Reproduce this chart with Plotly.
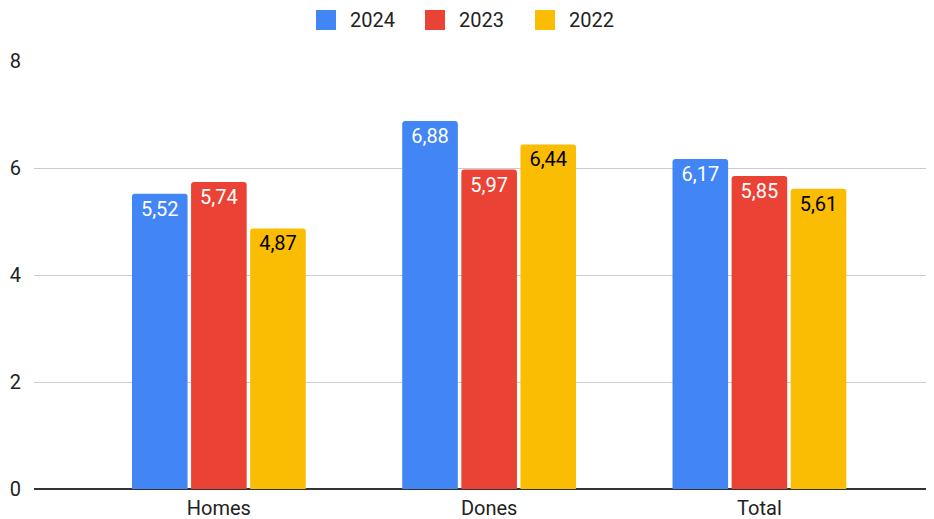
import plotly.graph_objects as go

categories = ["Homes", "Dones", "Total"]
series_names = ["2024", "2023", "2022"]
values_2024 = [5.52, 6.88, 6.17]
values_2023 = [5.74, 5.97, 5.85]
values_2022 = [4.87, 6.44, 5.61]
colors = ["#4285F4", "#EA4335", "#FBBC04"]
text_colors = ["white", "white", "black"]
y_ticks = [0, 2, 4, 6, 8]

# the page body has an 8px margin; size the figure so it ends at the window edge
OFF = 8
W, H = 934 - OFF, 519 - OFF
ML, MR, MT, MB = 34 - OFF, 0, 61 - OFF, 30
PW, PH = W - ML - MR, H - MT - MB


def px_x(px):
    return (px - OFF - ML) / PW


def px_y(py):
    return (H - MB - (py - OFF)) / PH


fig = go.Figure()
for name, vals, col, tc in zip(series_names, [values_2024, values_2023, values_2022], colors, text_colors):
    fig.add_trace(go.Bar(
        x=categories, y=vals, name=name,
        marker=dict(color=col, cornerradius=3, line=dict(width=0)),
        text=vals, texttemplate="%{y:.2f}", textposition="inside",
        insidetextanchor="end", textangle=0,
        textfont=dict(family="Roboto", size=20, color=tc),
        showlegend=False,
    ))

# custom legend (top centre), matching the reference's larger swatches
legend_sq_x = [316, 425, 535]
shapes = []
annotations = []
for name, col, sx in zip(series_names, colors, legend_sq_x):
    shapes.append(dict(type="rect", xref="paper", yref="paper",
                       x0=px_x(sx), x1=px_x(sx + 20), y0=px_y(30), y1=px_y(10),
                       fillcolor=col, line=dict(width=0), layer="above"))
    annotations.append(dict(xref="paper", yref="paper", x=px_x(sx + 32), y=px_y(20),
                            xanchor="left", yanchor="middle", showarrow=False,
                            text=name, font=dict(family="Roboto", size=20, color="#222222")))

fig.update_layout(
    width=W, height=H,
    margin=dict(l=ML, r=MR, t=MT, b=MB, autoexpand=False),
    paper_bgcolor="white", plot_bgcolor="white",
    barmode="group", bargap=0.344, bargroupgap=0.059,
    separators=",.",
    uniformtext=dict(minsize=20, mode="show"),
    font=dict(family="Roboto", size=20, color="#222222"),
    showlegend=False,
    shapes=shapes, annotations=annotations,
    xaxis=dict(range=[-0.684, 2.646], showgrid=False, showline=False, ticks="",
               tickfont=dict(size=20, color="#222222"), ticklabelstandoff=5),
    yaxis=dict(range=[0, 8], tickvals=y_ticks, showgrid=True, gridcolor="#CCCCCC",
               gridwidth=1, zeroline=True, zerolinecolor="#333333", zerolinewidth=1.5,
               showline=False, ticks="", tickfont=dict(size=20, color="#222222"),
               ticklabelstandoff=12, fixedrange=True),
)

fig.write_html("out.html")
